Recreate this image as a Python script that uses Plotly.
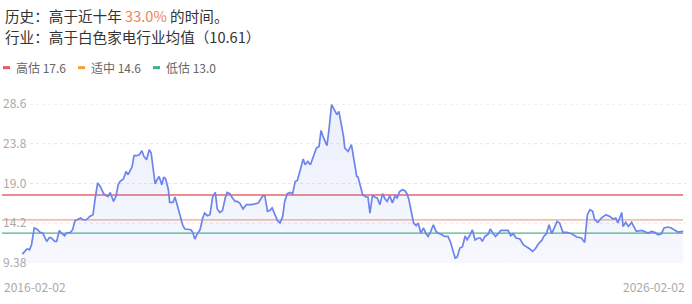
import numpy as np
import pandas as pd
import plotly.graph_objects as go

# ---------------- data ----------------
start_date = "2016-02-02"
end_date = "2026-02-02"
# time in years since start_date, PE value
t_years = [
    0.00, 0.04, 0.07, 0.11, 0.14, 0.18, 0.22, 0.27, 0.31, 0.37, 0.41, 0.44, 0.49, 0.52, 0.56, 0.60,
    0.64, 0.67, 0.73, 0.76, 0.80, 0.83, 0.88, 0.92, 0.97, 1.02, 1.07, 1.10, 1.14, 1.18, 1.23, 1.27,
    1.30, 1.33, 1.38, 1.42, 1.45, 1.48, 1.53, 1.57, 1.60, 1.66, 1.69, 1.73, 1.77, 1.81, 1.84, 1.88,
    1.92, 1.95, 1.97, 2.01, 2.04, 2.07, 2.11, 2.14, 2.17, 2.21, 2.23, 2.28, 2.31, 2.34, 2.39, 2.43,
    2.46, 2.51, 2.55, 2.58, 2.61, 2.65, 2.69, 2.73, 2.76, 2.80, 2.84, 2.88, 2.92, 2.95, 2.99, 3.03,
    3.07, 3.10, 3.14, 3.18, 3.22, 3.25, 3.29, 3.34, 3.39, 3.47, 3.52, 3.57, 3.64, 3.67, 3.71, 3.75,
    3.78, 3.82, 3.86, 3.90, 3.94, 3.97, 4.01, 4.05, 4.09, 4.13, 4.16, 4.20, 4.25, 4.28, 4.32, 4.36,
    4.40, 4.45, 4.49, 4.52, 4.55, 4.61, 4.64, 4.68, 4.72, 4.76, 4.79, 4.82, 4.86, 4.88, 4.93, 4.98,
    5.02, 5.06, 5.08, 5.12, 5.15, 5.20, 5.23, 5.26, 5.30, 5.33, 5.37, 5.41, 5.45, 5.49, 5.52, 5.56,
    5.60, 5.64, 5.67, 5.71, 5.75, 5.79, 5.82, 5.85, 5.89, 5.92, 5.96, 5.99, 6.03, 6.07, 6.11, 6.14,
    6.18, 6.22, 6.26, 6.29, 6.35, 6.39, 6.44, 6.48, 6.52, 6.55, 6.58, 6.62, 6.66, 6.70, 6.73, 6.77,
    6.81, 6.85, 6.90, 6.93, 6.96, 7.00, 7.05, 7.08, 7.12, 7.16, 7.20, 7.24, 7.29, 7.35, 7.39, 7.43,
    7.47, 7.53, 7.58, 7.63, 7.68, 7.72, 7.76, 7.81, 7.86, 7.89, 7.93, 7.97, 8.01, 8.06, 8.09, 8.13,
    8.18, 8.24, 8.31, 8.39, 8.46, 8.51, 8.55, 8.59, 8.63, 8.66, 8.71, 8.76, 8.83, 8.89, 8.94, 8.98,
    9.01, 9.07, 9.09, 9.13, 9.17, 9.22, 9.25, 9.29, 9.37, 9.42, 9.47, 9.52, 9.57, 9.62, 9.67, 9.71,
    9.77, 9.82, 9.87, 9.92, 10.00,
]
pe_values = [
    10.46, 10.78, 11.07, 10.99, 11.59, 13.61, 13.49, 13.08, 13.00, 11.99, 12.47, 12.40, 11.99, 11.99, 13.32, 12.92,
    12.68, 13.00, 13.08, 13.40, 14.53, 14.61, 14.82, 14.61, 14.61, 15.01, 15.22, 17.03, 19.05, 18.64, 17.76, 17.51,
    17.43, 17.91, 16.82, 17.51, 18.84, 19.24, 19.53, 20.45, 20.05, 20.98, 22.35, 22.35, 22.47, 22.95, 22.26, 21.87,
    23.07, 22.68, 21.47, 18.93, 19.45, 19.85, 18.84, 19.77, 19.53, 18.24, 16.70, 16.70, 17.36, 16.43, 15.22, 13.89,
    13.49, 13.40, 13.40, 13.08, 12.28, 12.92, 13.40, 14.82, 15.42, 15.10, 15.22, 17.36, 17.91, 15.91, 15.49, 15.74,
    17.24, 17.91, 17.76, 17.24, 16.82, 16.82, 16.63, 15.91, 16.43, 16.43, 16.55, 16.63, 17.51, 17.51, 15.62, 15.74,
    16.03, 15.34, 14.53, 14.21, 15.01, 16.82, 17.76, 17.91, 17.76, 19.24, 19.33, 20.45, 21.95, 21.26, 21.66, 21.26,
    22.26, 23.28, 23.47, 25.41, 24.68, 23.56, 25.49, 28.52, 27.91, 27.31, 27.71, 26.50, 24.68, 23.28, 22.87, 23.68,
    21.47, 19.85, 19.77, 18.64, 17.63, 17.36, 17.36, 15.42, 17.63, 17.36, 17.24, 16.43, 17.76, 17.11, 16.82, 17.51,
    16.63, 17.51, 17.24, 18.03, 18.24, 18.12, 17.76, 17.03, 15.42, 14.21, 13.89, 14.21, 13.00, 13.61, 12.92, 12.59,
    13.20, 14.01, 13.20, 13.00, 12.80, 12.59, 12.59, 11.89, 10.78, 9.98, 10.10, 11.19, 11.35, 12.64, 12.19, 12.70,
    13.40, 12.16, 12.40, 12.40, 11.99, 12.59, 12.86, 13.49, 13.00, 12.59, 12.92, 13.32, 13.32, 13.32, 12.68, 12.92,
    12.40, 12.28, 11.59, 11.38, 11.07, 10.78, 11.07, 11.71, 12.11, 12.59, 12.92, 14.01, 12.92, 13.80, 14.41, 14.21,
    13.08, 13.08, 12.92, 12.52, 12.40, 11.87, 15.22, 15.82, 15.62, 14.61, 14.29, 14.82, 15.22, 15.01, 14.70, 14.82,
    14.21, 15.49, 13.80, 14.29, 13.80, 14.29, 13.80, 13.20, 13.32, 13.20, 13.00, 13.20, 13.08, 12.80, 12.92, 13.61,
    13.73, 13.61, 13.40, 13.12, 13.20,
]

y_ticks = [9.38, 14.2, 19.0, 23.8, 28.6]
y_tick_labels = ["9.38", "14.2", "19.0", "23.8", "28.6"]

band_names = ["高估", "适中", "低估"]
band_values = [17.6, 14.6, 13.0]

history_pct = "33.0%"
industry_name = "白色家电"
industry_avg = "10.61"

# ---------------- styles ----------------
W, H = 692, 304
PLOT_TOP, PLOT_BOTTOM = 104.3, 263.0
FONT = "Noto Sans CJK SC, Noto Sans, sans-serif"
line_color = "#6c84ec"
band_line_colors = ["#e8646c", "#f6a483", "#4db38a"]
band_dash_colors = ["#e2576a", "#f2a141", "#3fb08a"]


def px_x(p):
    return p / W


def px_y(p):
    return (PLOT_BOTTOM - p) / (PLOT_BOTTOM - PLOT_TOP)


start = pd.Timestamp(start_date)
x_dates = start + pd.to_timedelta(np.array(t_years) * 365.25, unit="D")
span_days = (pd.Timestamp(end_date) - start).days
# data runs from px 22.3 to px 683.3 in the frame
days_per_px = span_days / (683.3 - 22.3)
x_range = [start - pd.Timedelta(days=22.3 * days_per_px),
           start + pd.Timedelta(days=(W - 22.3) * days_per_px)]

fig = go.Figure()
fig.add_trace(go.Scatter(
    x=x_dates, y=pe_values, mode="lines",
    line=dict(color=line_color, width=1.7),
    fill="tozeroy",
    fillgradient=dict(type="vertical",
                      colorscale=[[0, "rgba(108,132,236,0.02)"], [1, "rgba(108,132,236,0.13)"]]),
    hoverinfo="skip", showlegend=False,
))

shapes = []
# dotted gridlines
for v in y_ticks[1:]:
    shapes.append(dict(type="line", xref="paper", yref="y", x0=px_x(30), x1=px_x(686),
                       y0=v, y1=v, line=dict(color="#e6e6e6", width=1, dash="dot"), layer="below"))
# valuation band lines
for v, c in zip(band_values, band_line_colors):
    shapes.append(dict(type="line", xref="paper", yref="y", x0=px_x(2), x1=px_x(683),
                       y0=v, y1=v, line=dict(color=c, width=1.3), layer="below"))

annotations = []
annotations.append(dict(
    xref="paper", yref="paper", x=px_x(3), y=px_y(16), xanchor="left", yanchor="middle",
    text=f"历史：高于近十年&nbsp;<span style='color:#f0835a'>{history_pct}</span>&nbsp;的时间。",
    showarrow=False, font=dict(family=FONT, size=14.6, color="#333333")))
annotations.append(dict(
    xref="paper", yref="paper", x=px_x(3), y=px_y(37), xanchor="left", yanchor="middle",
    text=f"行业：高于{industry_name}行业均值（{industry_avg}）",
    showarrow=False, font=dict(family=FONT, size=14.6, color="#333333")))

legend_x = [3, 78, 153]
for lx, name, val, c in zip(legend_x, band_names, band_values, band_dash_colors):
    shapes.append(dict(type="line", xref="paper", yref="paper", x0=px_x(lx), x1=px_x(lx + 7),
                       y0=px_y(68), y1=px_y(68), line=dict(color=c, width=3)))
    annotations.append(dict(
        xref="paper", yref="paper", x=px_x(lx + 11), y=px_y(68), xanchor="left", yanchor="middle",
        text=f"{name} {val:.1f}", showarrow=False,
        font=dict(family=FONT, size=12, color="#666666")))

annotations.append(dict(
    xref="paper", yref="paper", x=px_x(2), y=px_y(286), xanchor="left", yanchor="middle",
    text=start_date, showarrow=False, font=dict(family=FONT, size=12, color="#aaaaaa")))
annotations.append(dict(
    xref="paper", yref="paper", x=px_x(687), y=px_y(286), xanchor="right", yanchor="middle",
    text=end_date, showarrow=False, font=dict(family=FONT, size=12, color="#aaaaaa")))

fig.update_layout(
    width=W, height=H,
    margin=dict(l=0, r=0, t=PLOT_TOP, b=H - PLOT_BOTTOM, pad=0),
    paper_bgcolor="white", plot_bgcolor="white",
    shapes=shapes, annotations=annotations,
    xaxis=dict(range=x_range, showgrid=False, zeroline=False, showticklabels=False,
               showline=False, ticks=""),
    yaxis=dict(range=[y_ticks[0], y_ticks[-1]], showgrid=False, zeroline=False,
               tickvals=y_ticks, ticktext=y_tick_labels, ticks="",
               ticklabelposition="inside", ticklabeloverflow="allow",
               tickfont=dict(family=FONT, size=12, color="#aaaaaa"), showline=False),
    hovermode=False,
)

fig.write_html("out.html")
